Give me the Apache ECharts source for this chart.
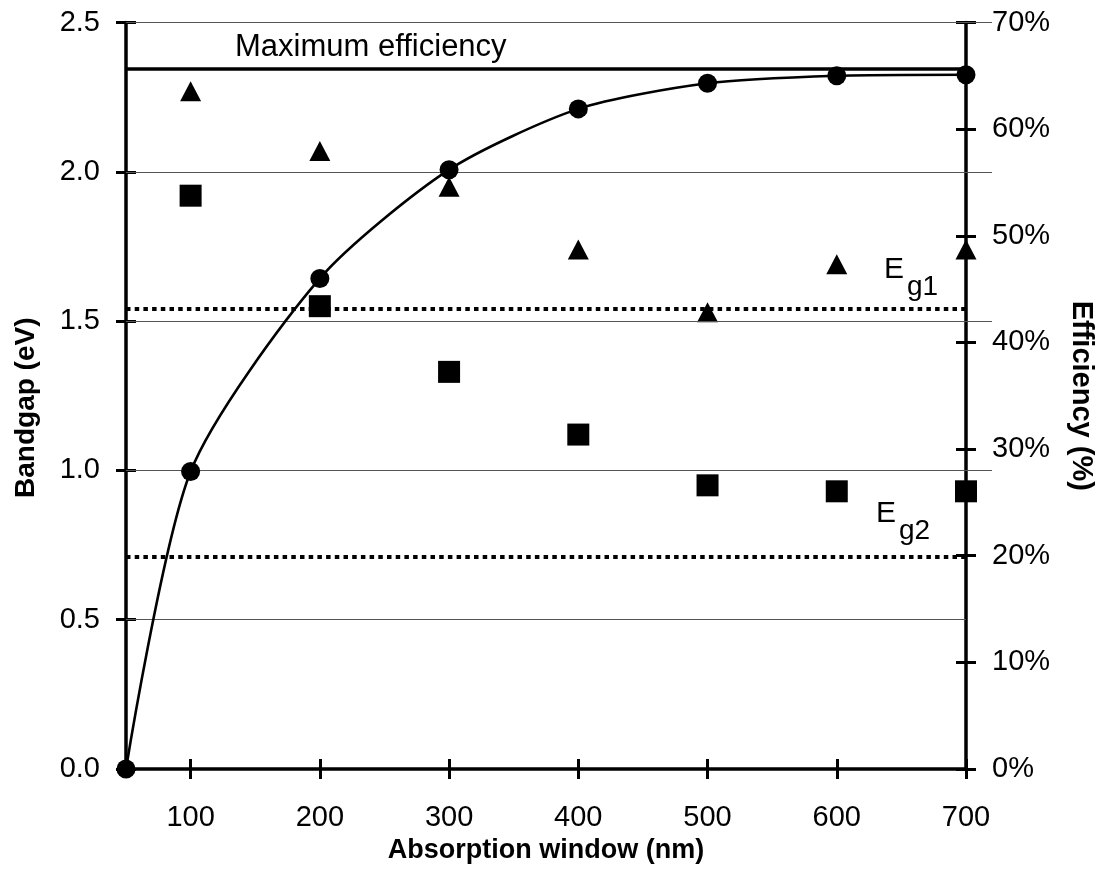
<!DOCTYPE html>
<html lang="en">
<head>
<meta charset="UTF-8">
<title>Bandgap and efficiency vs absorption window</title>
<script src="https://cdn.jsdelivr.net/npm/echarts@6/dist/echarts.min.js"></script>
<style>
  html, body { margin: 0; background: #fff; }
  #chart { width: 1102px; height: 888px; }
</style>
</head>
<body>
<div id="chart"></div>
<script>
// data
var windows = [100, 200, 300, 400, 500, 600, 700];          // absorption window (nm)
var effWindows = [50, 100, 200, 300, 400, 500, 600, 700];
var efficiency = [0, 27.9, 46.0, 56.2, 61.9, 64.3, 65.0, 65.1]; // %
var eg1 = [2.27, 2.07, 1.95, 1.74, 1.53, 1.69, 1.74];         // eV, triangles
var eg2 = [1.92, 1.55, 1.33, 1.12, 0.95, 0.93, 0.93];         // eV, squares
var maxEfficiency = 65.7;   // %
var eg1Level = 1.54;        // eV
var eg2Level = 0.71;        // eV
var xTicks = [100, 200, 300, 400, 500, 600, 700];
var longGridLevels = [1.0, 1.5, 2.0, 2.5];
var shortGridLevels = [0.5];

var FONT = '"Liberation Sans", Arial, sans-serif';

function pairs(xs, ys) {
  return ys.map(function (v, i) { return [xs[i], v]; });
}
function levels(arr) {
  return arr.map(function (v) { return { yAxis: v }; });
}

var chart = echarts.init(document.getElementById('chart'));

var tickLabel = { color: '#000', fontSize: 29, fontFamily: FONT };
var blackLine = { color: '#000', width: 3.5 };
var gridLine = { color: '#555', width: 1.2, type: 'solid' };

var option = {
  animation: false,
  backgroundColor: '#fff',
  grid: [
    { left: 126, right: 136, top: 22.5, bottom: 119, outerBoundsMode: 'none', containLabel: false },
    { left: 126, right: 110, top: 22.5, bottom: 119, outerBoundsMode: 'none', containLabel: false }
  ],
  xAxis: [
    {
      gridIndex: 0, type: 'value', min: 50, max: 700, position: 'bottom',
      axisLine: { onZero: false, lineStyle: blackLine },
      axisTick: { show: true, length: 10, customValues: xTicks, lineStyle: { color: '#000', width: 3 } },
      axisLabel: Object.assign({ margin: 34, customValues: xTicks }, tickLabel),
      splitLine: { show: false },
      name: 'Absorption window (nm)', nameLocation: 'middle', nameGap: 67,
      nameTextStyle: { color: '#000', fontSize: 27, fontWeight: 'bold', fontFamily: FONT }
    },
    {
      gridIndex: 0, type: 'value', min: 50, max: 700, position: 'bottom',
      axisLine: { show: false, onZero: false },
      axisTick: { show: true, inside: true, length: 10, customValues: xTicks, lineStyle: { color: '#000', width: 3 } },
      axisLabel: { show: false },
      splitLine: { show: false }
    },
    { gridIndex: 1, type: 'value', min: 50, max: 700, show: false }
  ],
  yAxis: [
    {
      gridIndex: 0, type: 'value', min: 0, max: 2.5, interval: 0.5, position: 'left',
      axisLine: { show: true, onZero: false, lineStyle: blackLine },
      axisTick: { show: true, length: 10, lineStyle: { color: '#000', width: 3 } },
      axisLabel: Object.assign({ margin: 26, formatter: function (v) { return v.toFixed(1); } }, tickLabel),
      splitLine: { show: false },
      name: 'Bandgap (eV)', nameLocation: 'middle', nameGap: 86, nameRotate: 90,
      nameTextStyle: { color: '#000', fontSize: 28, fontWeight: 'bold', fontFamily: FONT, padding: [0, 24, 0, 0] }
    },
    {
      gridIndex: 0, type: 'value', min: 0, max: 70, interval: 10, position: 'right',
      axisLine: { show: true, onZero: false, lineStyle: blackLine },
      axisTick: { show: true, length: 10, lineStyle: { color: '#000', width: 3 } },
      axisLabel: Object.assign({ margin: 26, formatter: '{value}%' }, tickLabel),
      splitLine: { show: false },
      name: 'Efficiency (%)', nameLocation: 'middle', nameGap: 100, nameRotate: -90,
      nameTextStyle: { color: '#000', fontSize: 29, fontWeight: 'bold', fontFamily: FONT }
    },
    {
      gridIndex: 0, type: 'value', min: 0, max: 2.5, interval: 0.5, position: 'left',
      axisLine: { show: false, onZero: false },
      axisTick: { show: true, inside: true, length: 10, lineStyle: { color: '#000', width: 3 } },
      axisLabel: { show: false }, splitLine: { show: false }
    },
    {
      gridIndex: 0, type: 'value', min: 0, max: 70, interval: 10, position: 'right',
      axisLine: { show: false, onZero: false },
      axisTick: { show: true, inside: true, length: 10, lineStyle: { color: '#000', width: 3 } },
      axisLabel: { show: false }, splitLine: { show: false }
    },
    { gridIndex: 1, type: 'value', min: 0, max: 2.5, show: false }
  ],
  series: [
    {
      // horizontal rules that run a little past the right axis
      name: 'grid-long', type: 'line', xAxisIndex: 2, yAxisIndex: 4, data: [], z: 1, silent: true,
      markLine: { silent: true, symbol: 'none', label: { show: false }, lineStyle: gridLine, data: levels(longGridLevels) }
    },
    {
      name: 'grid-short', type: 'line', xAxisIndex: 0, yAxisIndex: 0, data: [], z: 1, silent: true,
      markLine: { silent: true, symbol: 'none', label: { show: false }, lineStyle: gridLine, data: levels(shortGridLevels) }
    },
    {
      name: 'Efficiency', type: 'line', xAxisIndex: 0, yAxisIndex: 1, z: 5,
      data: pairs(effWindows, efficiency),
      smooth: 0.25,
      symbol: 'circle', symbolSize: 19,
      itemStyle: { color: '#000', opacity: 1 },
      lineStyle: { color: '#000', width: 2.6 },
      markLine: {
        silent: true, symbol: 'none', label: { show: false },
        lineStyle: { color: '#000', width: 3.6, type: 'solid' },
        data: [{ yAxis: maxEfficiency }]
      }
    },
    {
      name: 'Eg1', type: 'scatter', xAxisIndex: 0, yAxisIndex: 0, z: 4,
      data: pairs(windows, eg1),
      symbol: 'triangle', symbolSize: [21, 20],
      itemStyle: { color: '#000', opacity: 1 },
      markLine: {
        silent: true, symbol: 'none', label: { show: false },
        lineStyle: { color: '#000', width: 4, type: [4.5, 4.2], cap: 'butt' },
        data: [{ yAxis: eg1Level }]
      }
    },
    {
      name: 'Eg2', type: 'scatter', xAxisIndex: 0, yAxisIndex: 0, z: 4,
      data: pairs(windows, eg2),
      symbol: 'rect', symbolSize: 22,
      itemStyle: { color: '#000', opacity: 1 },
      markLine: {
        silent: true, symbol: 'none', label: { show: false },
        lineStyle: { color: '#000', width: 4, type: [4.5, 4.2], cap: 'butt' },
        data: [{ yAxis: eg2Level }]
      }
    }
  ],
  graphic: [
    { type: 'text', x: 235, y: 47, style: { text: 'Maximum efficiency', font: '31px ' + FONT, fill: '#000', verticalAlign: 'middle' } },
    { type: 'text', x: 884, y: 270, style: { text: 'E', font: '30px ' + FONT, fill: '#000', verticalAlign: 'middle' } },
    { type: 'text', x: 907, y: 287, style: { text: 'g1', font: '28px ' + FONT, fill: '#000', verticalAlign: 'middle' } },
    { type: 'text', x: 876, y: 514, style: { text: 'E', font: '30px ' + FONT, fill: '#000', verticalAlign: 'middle' } },
    { type: 'text', x: 899, y: 531, style: { text: 'g2', font: '28px ' + FONT, fill: '#000', verticalAlign: 'middle' } }
  ]
};

chart.setOption(option);
</script>
</body>
</html>
